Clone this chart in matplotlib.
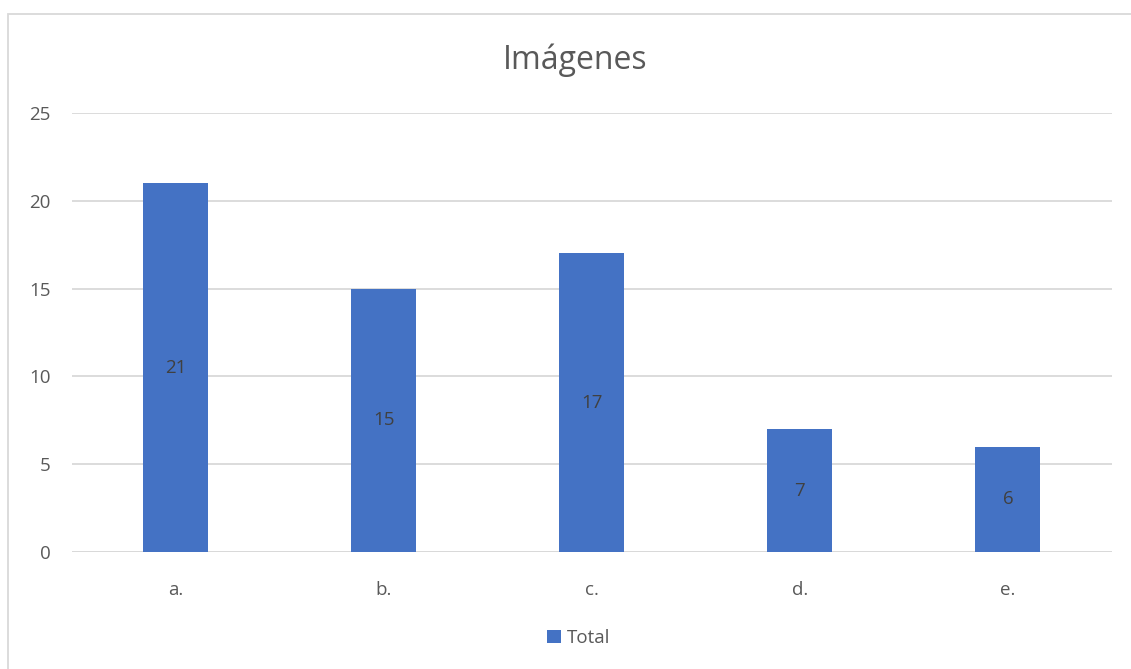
import matplotlib
matplotlib.use("Agg")
import matplotlib.pyplot as plt
from matplotlib.patches import Rectangle

categories = ["a.", "b.", "c.", "d.", "e."]
totals = [21, 15, 17, 7, 6]
y_ticks = [0, 5, 10, 15, 20, 25]

bar_color = "#4472C4"
text_color = "#595959"
grid_color = "#D9D9D9"

plt.rcParams["font.family"] = ["Open Sans", "DejaVu Sans"]

fig = plt.figure(figsize=(11.31, 6.69), dpi=100)
W, H = 1131, 669
ax = fig.add_axes([71.5 / W, 1 - 552 / H, (1112 - 71.5) / W, (552 - 113) / H])

x = list(range(len(categories)))
bars = ax.bar(x, totals, width=0.3125, color=bar_color, zorder=3, label="Total")

for rect, v in zip(bars, totals):
    ax.text(rect.get_x() + rect.get_width() / 2, v / 2, str(v),
            ha="center", va="center", fontsize=13.5, color="#404040", zorder=4)

ax.set_xlim(-0.5, len(categories) - 0.5)
ax.set_ylim(0, 25)
ax.set_yticks(y_ticks)
ax.set_xticks(x)
ax.set_xticklabels(categories)
ax.tick_params(axis="both", length=0, labelsize=13.5, colors=text_color)
ax.tick_params(axis="y", pad=15)
ax.tick_params(axis="x", pad=21)
ax.grid(axis="y", color=grid_color, linewidth=1.3, zorder=0)
for s in ax.spines.values():
    s.set_visible(False)
ax.axhline(0, color=grid_color, linewidth=1.3, zorder=2)

fig.text(575 / W, 1 - 60 / H, "Imágenes", ha="center", va="center",
         fontsize=23, color=text_color)

leg = fig.legend(handles=[bars], labels=["Total"], loc="center",
                 bbox_to_anchor=(579 / W, 1 - 638 / H), frameon=False,
                 fontsize=13.5, handlelength=0.7, handleheight=0.7,
                 handletextpad=0.35, labelcolor=text_color)

# outer chart frame
fig.add_artist(Rectangle((8 / W, -0.05), 1.2, 1 - 14 / H + 0.05,
                         transform=fig.transFigure, fill=False,
                         edgecolor=grid_color, linewidth=1.3))

fig.savefig("out.png", dpi=100, facecolor="white")
